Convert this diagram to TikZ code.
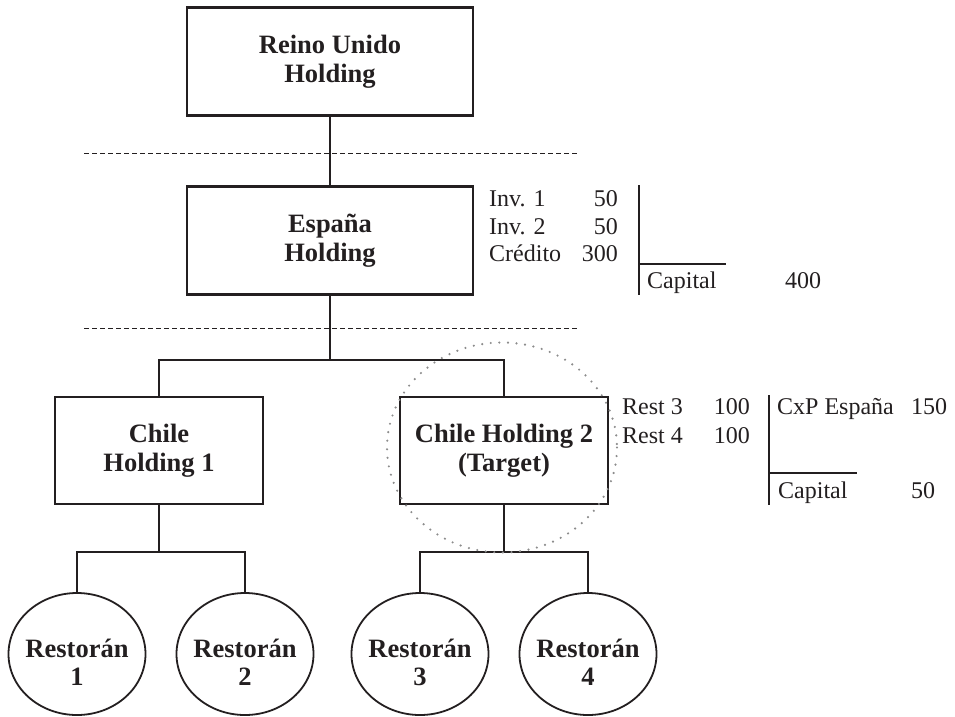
\documentclass[tikz,border=0pt]{standalone}
\usepackage{fontspec}
\setmainfont{Liberation Serif}
\usetikzlibrary{shapes.geometric}
\definecolor{ink}{RGB}{35,31,32}
\begin{document}
\begin{tikzpicture}[x=1pt,y=-1pt, color=ink,
  bigbox/.style={draw, line width=2.2pt, minimum width=286pt, minimum height=108pt, inner sep=0pt, align=center, font=\fontsize{26.5}{29}\selectfont\bfseries},
  smallbox/.style={draw, line width=2.2pt, minimum width=208pt, minimum height=107pt, inner sep=0pt, align=center, font=\fontsize{26.5}{29}\selectfont\bfseries},
  resto/.style={draw, ellipse, line width=1.8pt, minimum width=137pt, minimum height=122pt, inner sep=0pt},
  restotext/.style={inner sep=0pt, align=center, font=\fontsize{26.5}{28}\selectfont\bfseries},
  conn/.style={line width=2.2pt},
  thinline/.style={line width=1.1pt},
  dashline/.style={line width=1pt, dash pattern=on 5pt off 3pt},
  dotc/.style={black!45, line width=2.4pt, line cap=round, dash pattern=on 0pt off 8.6pt},
  acct/.style={inner sep=0pt, font=\fontsize{24}{28}\selectfont},
  tline/.style={line width=1.1pt}]
\useasboundingbox (0,0) rectangle (955,716);

% dashed level lines
\draw[dashline] (84,153) -- (578,153);
\draw[dashline] (84,328) -- (578,328);

% boxes
\node[bigbox] (uk) at (330,61.5) {Reino Unido\\Holding};
\node[bigbox] (es) at (330,240.5) {España\\Holding};
\node[smallbox] (c1) at (159,450.5) {Chile\\Holding 1};
\node[smallbox] (c2) at (504,450.5) {Chile Holding 2\\(Target)};

% restaurants
\node[resto] (r1) at (77,654) {};
\node[resto] (r2) at (245,654) {};
\node[resto] (r3) at (420,654) {};
\node[resto] (r4) at (588,654) {};
\node[restotext] (r1t) at (77,662) {Restorán\\1};
\node[restotext] (r2t) at (245,662) {Restorán\\2};
\node[restotext] (r3t) at (420,662) {Restorán\\3};
\node[restotext] (r4t) at (588,662) {Restorán\\4};

% connectors
\coordinate (j1) at (330,360);
\coordinate (j2) at (159,552);
\coordinate (j3) at (504,552);
\draw[conn] (uk) -- (es);
\draw[conn] (es) -- (j1);
\draw[conn] (c1.north) |- (j1) -| (c2.north);
\draw[thinline] (r1.north) |- (r2.north |- j2) -- (r2.north);
\draw[conn] (c1.south) -- (j2) -- (r2.north |- j2);
\draw[thinline] (r3.north) |- (r4.north |- j3) -- (r4.north);
\draw[conn] (c2.south) -- (j3);

% dotted target circle
\draw[dotc] (502,447.5) ellipse [x radius=115, y radius=105];

% T-account Espana
\node[acct, anchor=base west] (a1) at (489,206) {Inv. 1};
\node[acct, anchor=base east] (a1v) at (618,206) {50};
\node[acct, anchor=base west] (a2) at (489,234) {Inv. 2};
\node[acct, anchor=base east] (a2v) at (618,234) {50};
\node[acct, anchor=base west] (a3) at (489,261) {Crédito};
\node[acct, anchor=base east] (a3v) at (618,261) {300};
\node[acct, anchor=base west] (a4) at (647,288) {Capital};
\node[acct, anchor=base west] (a4v) at (785,288) {400};
\draw[tline] (639,185) -- (639,295);
\draw[tline] (639,264) -- (726,264);

% T-account Chile Holding 2
\node[acct, anchor=base west] (b1) at (622,414) {Rest 3};
\node[acct, anchor=base east] (b1v) at (750,414) {100};
\node[acct, anchor=base west] (b2) at (622,443) {Rest 4};
\node[acct, anchor=base east] (b2v) at (750,443) {100};
\node[acct, anchor=base west] (b3) at (777,414) {CxP España};
\node[acct, anchor=base west] (b3v) at (911,414) {150};
\node[acct, anchor=base west] (b4) at (778,498) {Capital};
\node[acct, anchor=base west] (b4v) at (911,498) {50};
\draw[tline] (769,395) -- (769,505);
\draw[tline] (769,473) -- (857,473);
\end{tikzpicture}
\end{document}
